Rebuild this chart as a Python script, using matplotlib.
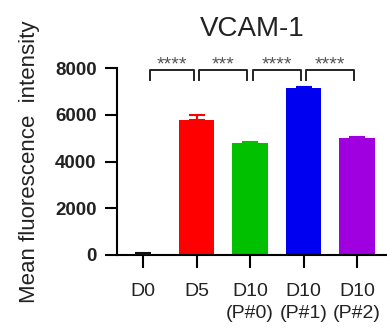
import matplotlib
matplotlib.use("Agg")
import matplotlib.pyplot as plt

plt.rcParams['font.family'] = ['Liberation Sans', 'DejaVu Sans']

categories = ["D0", "D5", "D10\n(P#0)", "D10\n(P#1)", "D10\n(P#2)"]
values = [60, 5780, 4790, 7140, 4990]
errors = [20, 200, 40, 40, 40]
colors = ["#111111", "#FF0000", "#00C000", "#0000F0", "#A000E0"]
yticks = [0, 2000, 4000, 6000, 8000]
comparisons = [(0, 1, "****"), (1, 2, "***"), (2, 3, "****"), (3, 4, "****")]
title = "VCAM-1"
ylabel = "Mean fluorescence  intensity"

fig = plt.figure(figsize=(3.87, 3.32), dpi=100)
ax = fig.add_axes([0.302, 0.232, 0.698, 0.563])

x = list(range(len(categories)))
ax.bar(x, values, width=0.66, color=colors, zorder=2)
for xi, v, e, c in zip(x, values, errors, colors):
    ax.errorbar(xi, v, yerr=[[0], [e]], color=c, capsize=6, capthick=1.5,
                elinewidth=1.5, zorder=3, clip_on=False)

ax.set_xlim(-0.49, 4.56)
ax.set_ylim(0, 8000)
ax.set_yticks(yticks)
ax.set_yticklabels([str(t) for t in yticks], fontsize=13.5, fontweight='bold',
                   color='#222222')
ax.set_xticks(x)
ax.set_xticklabels(categories, fontsize=14, linespacing=1.35, color='#222222')

for s in ['top', 'right']:
    ax.spines[s].set_visible(False)
ax.spines['left'].set_linewidth(1.5)
ax.spines['bottom'].set_linewidth(1.5)
ax.tick_params(axis='y', length=8.5, width=1.5, pad=6)
ax.tick_params(axis='x', length=9.5, width=1.5, pad=11)

ax.set_title(title, fontsize=20, pad=23, color='#222222')
ax.set_ylabel(ylabel, fontsize=16, labelpad=11, color='#222222')

# significance brackets
yb = 7900
hb = 430
for i, j, lab in comparisons:
    x0 = i + 0.12 if i == 0 else i + 0.05
    x1 = j - 0.05
    ax.plot([x0, x0, x1, x1], [yb - hb, yb, yb, yb - hb], color='#222222',
            lw=1.4, clip_on=False)
    ax.text((x0 + x1) / 2, yb - 120, lab, ha='center', va='bottom',
            fontsize=14, color='#555555')

fig.savefig("out.png", dpi=100)
